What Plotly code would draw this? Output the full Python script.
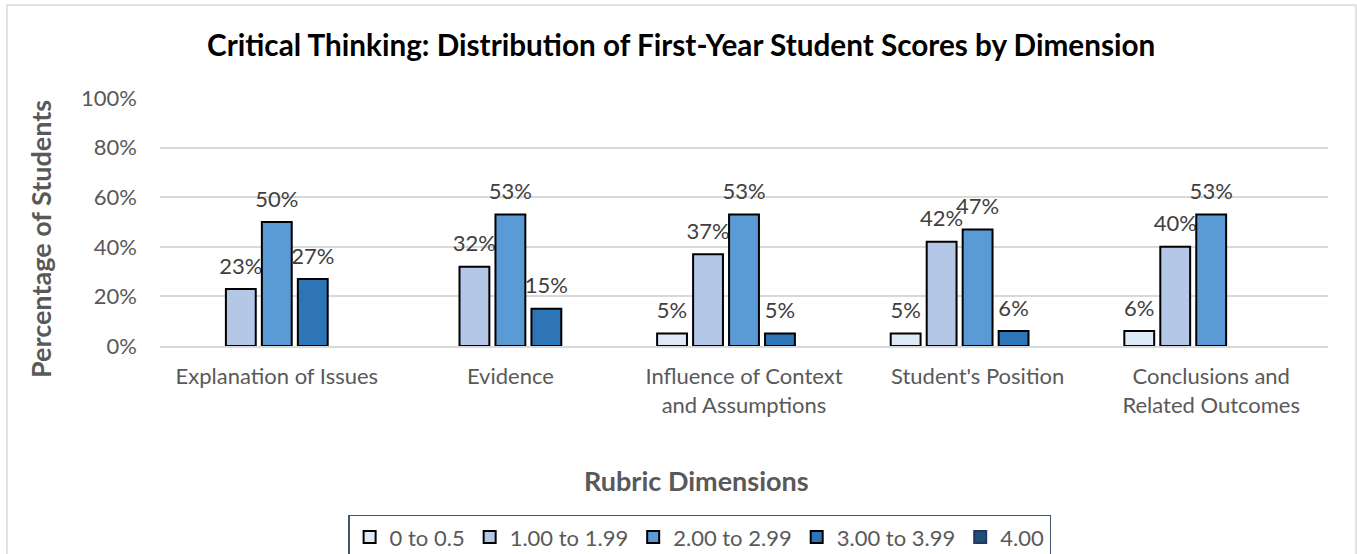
import plotly.graph_objects as go

categories = ["Explanation of Issues", "Evidence", "Influence of Context<br>and Assumptions",
              "Student's Position", "Conclusions and<br>Related Outcomes"]
series_names = ["0 to 0.5", "1.00 to 1.99", "2.00 to 2.99", "3.00 to 3.99", "4.00"]
s_0_05 = [None, None, 5, 5, 6]
s_100_199 = [23, 32, 37, 42, 40]
s_200_299 = [50, 53, 53, 47, 53]
s_300_399 = [27, 15, 5, 6, None]
s_400 = [None, None, None, None, None]
y_ticks = [0, 20, 40, 60, 80, 100]
y_tick_labels = ["0%", "20%", "40%", "60%", "80%", "100%"]

all_series = [s_0_05, s_100_199, s_200_299, s_300_399, s_400]
fills = ["#DEEBF7", "#B4C7E7", "#5B9BD5", "#2E75B6", "#1F4E79"]
lines = ["#000000", "#000000", "#000000", "#000000", "#1F3864"]

FONT = "Lato"
GRAY = "#595959"

fig = go.Figure()
for name, vals, fc, lc in zip(series_names, all_series, fills, lines):
    fig.add_trace(go.Bar(
        name=name, x=categories, y=vals,
        marker=dict(color=fc, line=dict(color=lc, width=2)),
        text=[(f"<span style='font-size:22px'>{v}%</span><br> " if v is not None else "")
              for v in vals],
        textposition="outside", cliponaxis=False, constraintext="none",
        textfont=dict(family=FONT, size=8, color="#404040"),
        hoverinfo="x+y",
    ))

fig.update_layout(
    width=1357, height=554,
    barmode="group", bargap=0.23, bargroupgap=0.17,
    plot_bgcolor="white", paper_bgcolor="white",
    margin=dict(l=160, r=29, t=98, b=208, autoexpand=False),
    font=dict(family=FONT, color=GRAY),
    title=dict(text="<b>Critical Thinking: Distribution of First-Year Student Scores by Dimension</b>",
               x=0.502, xanchor="center", y=1 - 46 / 554, yanchor="middle",
               font=dict(family=FONT, size=29.7, color="#000000")),
    yaxis=dict(range=[0, 100], tickvals=y_ticks, ticktext=y_tick_labels,
               showgrid=True, gridcolor="#D9D9D9", gridwidth=1.5, zeroline=False,
               tickfont=dict(family=FONT, size=22, color=GRAY), ticklen=0,
               ticklabelstandoff=22, showline=False),
    xaxis=dict(tickfont=dict(family=FONT, size=22, color=GRAY), showline=True,
               linecolor="#D9D9D9", linewidth=1.5, ticks="", ticklabelstandoff=10),
    legend=dict(orientation="h", x=0.462, xanchor="center", y=-0.68, yanchor="top",
                bordercolor="#44546A", borderwidth=1.5, bgcolor="white",
                font=dict(family=FONT, size=22, color=GRAY), traceorder="normal",
                itemwidth=30),
    annotations=[
        dict(text="<b>Rubric Dimensions</b>", xref="paper", yref="paper",
             x=(696 - 160) / 1168, y=(346 - 480) / 248, xanchor="center", yanchor="middle",
             showarrow=False, font=dict(family=FONT, size=27, color=GRAY)),
        dict(text="<b>Percentage of Students</b>", xref="paper", yref="paper",
             x=(40 - 160) / 1168, y=(346 - 239) / 248, xanchor="center", yanchor="middle",
             textangle=-90, showarrow=False, font=dict(family=FONT, size=27, color=GRAY)),
    ],
    shapes=[dict(type="rect", xref="paper", yref="paper",
                 x0=(7 - 160) / 1168, x1=(1356 - 160) / 1168,
                 y0=(346 - 560) / 248, y1=(346 - 5) / 248,
                 line=dict(color="#D9D9D9", width=1.5), layer="below")],
)

fig.write_html("out.html", config={"displayModeBar": False},
               post_script="document.body.style.margin='0';")
